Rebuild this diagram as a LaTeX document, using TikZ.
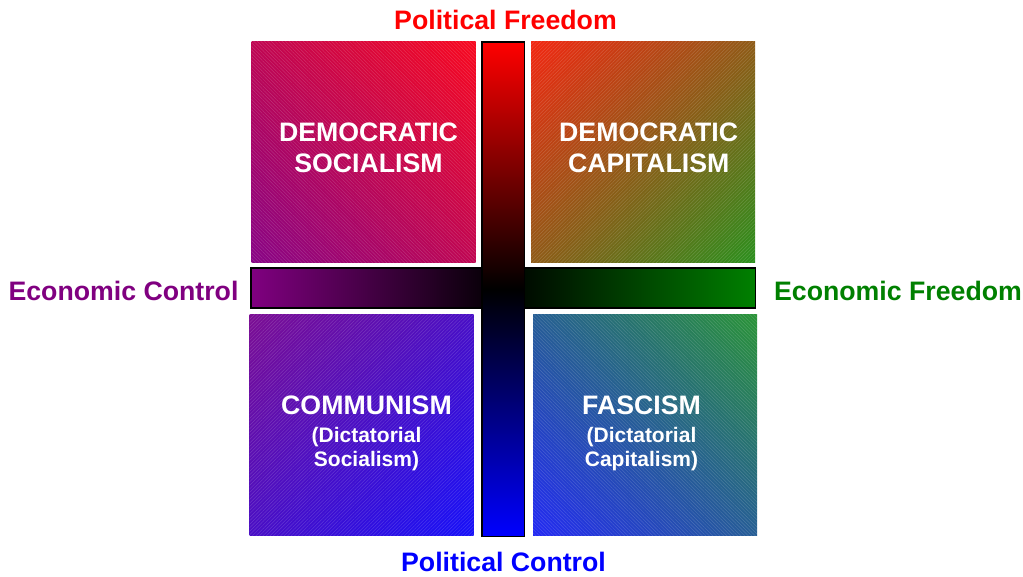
\documentclass[tikz,border=0pt]{standalone}
\usepackage{fontspec}
\setmainfont{Liberation Sans}
\usetikzlibrary{patterns.meta}

\definecolor{econpurple}{RGB}{128,0,128}
\definecolor{econgreen}{RGB}{0,128,0}
\definecolor{polred}{RGB}{255,0,0}
\definecolor{polblue}{RGB}{0,0,255}
\definecolor{dspurple}{RGB}{128,4,140}
\definecolor{dsred}{RGB}{255,8,24}
\definecolor{dcred}{RGB}{255,32,16}
\definecolor{dcgreen}{RGB}{30,150,30}
\definecolor{cmpurple}{RGB}{130,14,140}
\definecolor{cmblue}{RGB}{16,16,255}
\definecolor{fablue}{RGB}{34,34,255}
\definecolor{fagreen}{RGB}{42,154,42}

\pgfdeclarehorizontalshading{dsshade}{100bp}{color(0bp)=(dspurple); color(10bp)=(dspurple); color(90bp)=(dsred); color(100bp)=(dsred)}
\pgfdeclarehorizontalshading{dcshade}{100bp}{color(0bp)=(dcred); color(10bp)=(dcred); color(90bp)=(dcgreen); color(100bp)=(dcgreen)}
\pgfdeclarehorizontalshading{cmshade}{100bp}{color(0bp)=(cmpurple); color(10bp)=(cmpurple); color(90bp)=(cmblue); color(100bp)=(cmblue)}
\pgfdeclarehorizontalshading{fashade}{100bp}{color(0bp)=(fablue); color(10bp)=(fablue); color(90bp)=(fagreen); color(100bp)=(fagreen)}
\pgfdeclareverticalshading{polshade}{100bp}{color(0bp)=(polblue); color(25bp)=(polblue); color(50bp)=(black); color(75bp)=(polred); color(100bp)=(polred)}
\pgfdeclarehorizontalshading{econshade}{100bp}{color(0bp)=(econpurple); color(25bp)=(econpurple); color(50bp)=(black); color(75bp)=(econgreen); color(100bp)=(econgreen)}

\tikzset{
    quad/.style={shade, inner sep=0, outer sep=0, minimum width=224, minimum height=221,
	postaction={pattern={Lines[angle=#1,distance=2.5pt,line width=0.5pt]}, pattern color=white, opacity=0.16}},
    bar/.style={draw, line width=1.5pt, shade, inner sep=0, outer sep=0},
    quadtext/.style={text=white, font=\bfseries\fontsize{26.7}{31}\selectfont, align=center},
    subtext/.style={text=white, font=\bfseries\fontsize{21}{24.5}\selectfont, align=center},
    axistext/.style={anchor=base, font=\bfseries\fontsize{26.7}{31}\selectfont}
}

\begin{document}
\begin{tikzpicture}[x=1pt, y=-1pt]
    \useasboundingbox (0,0) rectangle (1023,576);
    \path (363.5, 151.5) node [quad=-45, shading=dsshade, shading angle=45] (ds) {};
    \path (643, 151.5) node [quad=45, shading=dcshade, shading angle=-45] (dc) {};
    \path (361.5, 424.5) node [quad=45, shading=cmshade, shading angle=-45] (cm) {};
    \path (645, 424.5) node [quad=-45, shading=fashade, shading angle=45] (fa) {};

    \path (503, 287.75) node [bar, shading=econshade, minimum width=504.5, minimum height=40] (econ) {};
    \path (503, 289) node [bar, shading=polshade, minimum width=42.5, minimum height=494.5] (pol) {};

    \path (368.5, 148) node [quadtext] (dstext) {DEMOCRATIC\\SOCIALISM};
    \path (648.7, 148) node [quadtext] (dctext) {DEMOCRATIC\\CAPITALISM};
    \path (366.5, 414.3) node [quadtext, anchor=base] (cmtext) {COMMUNISM};
    \path (366.5, 449) node [subtext] (cmsub) {(Dictatorial\\Socialism)};
    \path (641.5, 414.3) node [quadtext, anchor=base] (fatext) {FASCISM};
    \path (641.5, 449) node [subtext] (fasub) {(Dictatorial\\Capitalism)};

    \path (505.5, 29.5) node [axistext, text=polred] (polfree) {Political Freedom};
    \path (503.5, 571) node [axistext, text=polblue] (polctrl) {Political Control};
    \path (123.5, 300) node [axistext, text=econpurple] (econctrl) {Economic Control};
    \path (898, 300) node [axistext, text=econgreen] (econfree) {Economic Freedom};
\end{tikzpicture}
\end{document}
